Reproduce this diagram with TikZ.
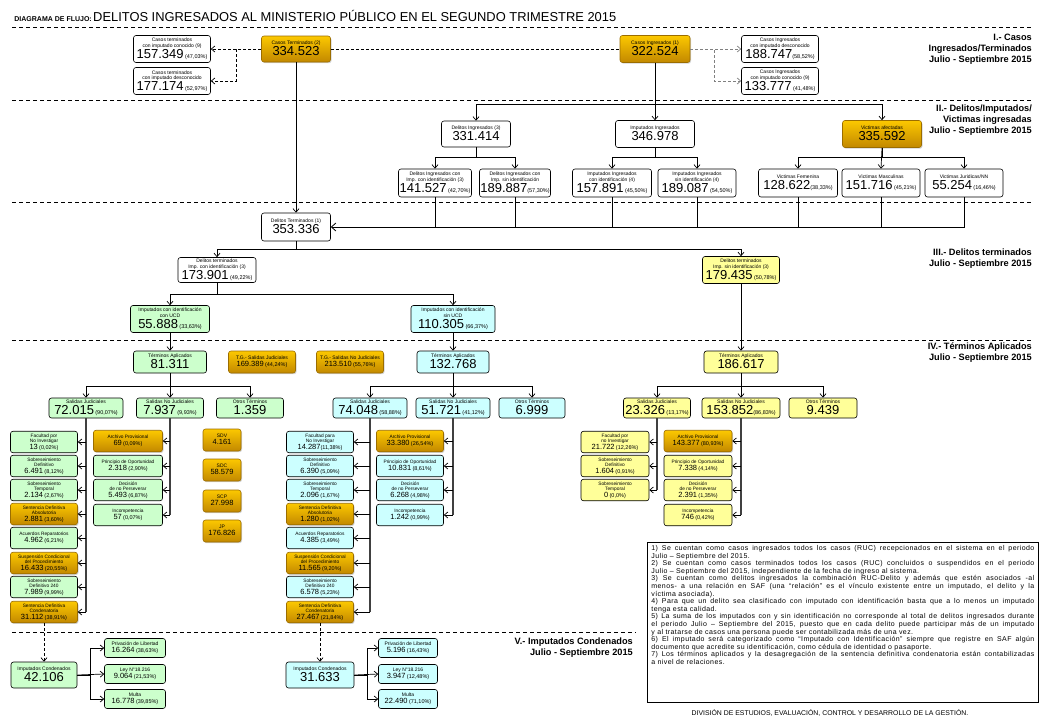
\documentclass[tikz,border=0pt]{standalone}
\usepackage{fontspec}
\setmainfont{Liberation Sans}
\newfontfamily\notafont[LetterSpace=6]{Liberation Sans}
\usepackage{xcolor}
\usepackage{tikz}
\usetikzlibrary{arrows.meta,shadows}

\definecolor{oroclaro}{RGB}{252,200,0}
\definecolor{orooscuro}{RGB}{194,136,0}
\definecolor{verdeclaro}{RGB}{204,255,204}
\definecolor{celeste}{RGB}{204,255,255}
\definecolor{amarillo}{RGB}{255,255,153}

\newcommand{\celda}[1]{\begin{tabular}{@{}c@{}}#1\end{tabular}}
\newcommand{\bnum}[1]{{\fontsize{13}{13}\selectfont #1}}
\newcommand{\mnum}[1]{{\fontsize{7.5}{7.5}\selectfont #1}}
\newcommand{\pcnt}[1]{{\fontsize{5.5}{5.5}\selectfont (#1\%)}}

\begin{document}
\begin{tikzpicture}[x=1pt,y=-1pt,
  caja/.style={draw,rounded corners=2.5pt,inner sep=0.5pt,line width=0.6pt,font=\fontsize{5}{5.6}\selectfont},
  blanca/.style={caja,fill=white},
  oro/.style={caja,draw=orooscuro!80!black,top color=oroclaro,bottom color=orooscuro,drop shadow={opacity=0.35,shadow xshift=1pt,shadow yshift=-1.2pt}},
  verde/.style={caja,fill=verdeclaro},
  cel/.style={caja,fill=celeste},
  ama/.style={caja,fill=amarillo},
  renglon/.style={minimum width=67,minimum height=21.5,font=\fontsize{4.8}{5.3}\selectfont},
  salida/.style={minimum height=20},
  flecha/.style={line width=0.7pt,-{Straight Barb[length=3.5pt,width=6pt]}},
  tronco/.style={line width=1.6pt,black!75},
  punteada/.style={line width=0.7pt,dash pattern=on 3pt off 2pt},
  separador/.style={line width=0.7pt,dash pattern=on 4pt off 3pt},
  seccion/.style={anchor=east,align=right,inner sep=0pt,font=\bfseries\fontsize{9.2}{11}\selectfont}]
\useasboundingbox (0,0) rectangle (1040,720);

% Title
\node[anchor=base west,inner sep=0pt,font=\fontsize{12.9}{14}\selectfont] (titulo) at (93,21) {DELITOS INGRESADOS AL MINISTERIO PÚBLICO EN EL SEGUNDO TRIMESTRE 2015};
\node[anchor=base east,inner sep=1pt,font=\bfseries\fontsize{7}{7}\selectfont] (diagrama) at (titulo.base west) {DIAGRAMA DE FLUJO:};

% Separators
\draw[separador] (12,27) -- (1032,27);
\draw[separador] (12,100) -- (1032,100);
\draw[separador] (12,202) -- (1032,202);
\draw[separador] (12,340) -- (1032,340);
\draw[separador] (12,632) -- (636,632);

% Section titles
\node[seccion] (secI) at (1032,49) {I.- Casos\\Ingresados/Terminados\\Julio - Septiembre 2015};
\node[seccion] (secII) at (1032,120) {II.- Delitos/Imputados/\\Victimas ingresadas\\Julio - Septiembre 2015};
\node[seccion] (secIII) at (1032,259) {III.- Delitos terminados\\Julio - Septiembre 2015};
\node[seccion] (secIV) at (1032,353) {IV.- Términos Aplicados\\Julio - Septiembre 2015};
\node[seccion] (secV) at (633,648) {V.- Imputados Condenados\\Julio - Septiembre 2015};

% Section I
\node[oro,minimum width=69,minimum height=26] (terminados) at (296,49) {\celda{Casos Terminados (2)\\\bnum{334.523}}};
\node[blanca,minimum width=77,minimum height=27] (termConocido) at (172,49) {\celda{Casos terminados\\con imputado conocido (9)\\\bnum{157.349} \pcnt{47,03}}};
\node[blanca,minimum width=77,minimum height=27] (termDesconocido) at (172,81) {\celda{Casos terminados\\con imputado desconocido\\\bnum{177.174} \pcnt{52,97}}};
\node[oro,minimum width=70,minimum height=27] (ingresados) at (655,49) {\celda{Casos Ingresados (1)\\\bnum{322.524}}};
\node[blanca,minimum width=77,minimum height=27] (ingDesconocido) at (780,49) {\celda{Casos Ingresados\\con imputado desconocido\\\bnum{188.747}\pcnt{58,52}}};
\node[blanca,minimum width=77,minimum height=27] (ingConocido) at (780,81) {\celda{Casos Ingresados\\con imputado conocido (9)\\\bnum{133.777} \pcnt{41,48}}};

\draw[punteada] (terminados.east) -- (ingresados.west);
\draw[punteada,flecha] (terminados.west) -- (termConocido.east);
\draw[punteada,flecha] (terminados.west) -- ++(-25,0) |- (termDesconocido.east);
\draw[punteada,flecha,gray] (ingresados.east) -- (ingDesconocido.west);
\draw[punteada,flecha,gray] (ingresados.east) -- ++(24,0) |- (ingConocido.west);

% Section II
\node[blanca,minimum width=69,minimum height=26] (delIng) at (476,134) {\celda{Delitos Ingresados (3)\\\bnum{331.414}}};
\node[blanca,minimum width=79,minimum height=27] (impIng) at (655,134) {\celda{Imputados Ingresados\\\bnum{346.978}}};
\node[oro,minimum width=79,minimum height=27] (victimas) at (882,134) {\celda{Victimas afectadas\\\bnum{335.592}}};

\node[blanca,minimum width=73,minimum height=28] (delCon) at (435,183) {\celda{Delitos Ingresados con\\Imp. con identificación (3)\\\bnum{141.527} \pcnt{42,70}}};
\node[blanca,minimum width=71,minimum height=28] (delSin) at (515,183) {\celda{Delitos Ingresados con\\Imp. sin identificación\\\bnum{189.887}\pcnt{57,30}}};
\node[blanca,minimum width=79,minimum height=28] (impCon) at (612,183) {\celda{Imputados Ingresados\\con identificación (4)\\\bnum{157.891} \pcnt{45,50}}};
\node[blanca,minimum width=78,minimum height=28] (impSin) at (697,183) {\celda{Imputados Ingresados\\sin identificación (4)\\\bnum{189.087} \pcnt{54,50}}};
\node[blanca,minimum width=79,minimum height=28] (vicFem) at (798,183) {\celda{Victimas Femenina\\\bnum{128.622}\pcnt{38,33}}};
\node[blanca,minimum width=78,minimum height=28] (vicMas) at (881,183) {\celda{Victimas Masculinas\\\bnum{151.716} \pcnt{45,21}}};
\node[blanca,minimum width=78,minimum height=28] (vicJur) at (964,183) {\celda{Victimas Juridicas/NN\\\bnum{55.254} \pcnt{16,46}}};

\draw[flecha] (ingresados.south) -- ++(0,42) -| (delIng.north);
\draw[flecha] (ingresados.south) -- (impIng.north);
\draw[flecha] (ingresados.south) -- ++(0,42) -| (victimas.north);
\draw[flecha] (delIng.south) -- ++(0,10) -| (delCon.north);
\draw[flecha] (delIng.south) -- ++(0,10) -| (delSin.north);
\draw[flecha] (impIng.south) -- ++(0,10) -| (impCon.north);
\draw[flecha] (impIng.south) -- ++(0,10) -| (impSin.north);
\draw[flecha] (victimas.south) -- ++(0,10) -| (vicFem.north);
\draw[flecha] (victimas.south) -- (vicMas.north);
\draw[flecha] (victimas.south) -- ++(0,10) -| (vicJur.north);

% Section III
\node[blanca,minimum width=69,minimum height=28] (delTerm) at (296,227) {\celda{Delitos Terminados (1)\\\bnum{353.336}}};
\node[blanca,minimum width=78,minimum height=25] (termCon) at (217,270) {\celda{Delitos terminados\\Imp. con identificación (3)\\\bnum{173.901} \pcnt{49,22}}};
\node[ama,minimum width=77,minimum height=27] (termSin) at (741,270) {\celda{Delitos terminados\\Imp. sin identificación (3)\\\bnum{179.435} \pcnt{50,78}}};
\node[verde,minimum width=79,minimum height=27] (conUCD) at (170,319) {\celda{Imputados con identificación\\con UCD\\\bnum{55.888} \pcnt{33,63}}};
\node[cel,minimum width=84,minimum height=27] (sinUCD) at (453,319) {\celda{Imputados con identificación\\sin UCD\\\bnum{110.305} \pcnt{66,37}}};

\draw[flecha] (terminados) -- (delTerm);
\draw (delCon.south) -- (delCon.south |- delTerm.east);
\draw (delSin.south) -- (delSin.south |- delTerm.east);
\draw (impCon.south) -- (impCon.south |- delTerm.east);
\draw (impSin.south) -- (impSin.south |- delTerm.east);
\draw (vicFem.south) -- (vicFem.south |- delTerm.east);
\draw (vicMas.south) -- (vicMas.south |- delTerm.east);
\draw[line width=0.8pt,-{Straight Barb[length=4.5pt,width=8pt]}] (vicJur.south) |- (delTerm.east);
\draw[flecha] (delTerm.south) -- ++(0,8) -| (termCon.north);
\draw[flecha] (delTerm.south) -- ++(0,8) -| (termSin.north);
\draw[flecha] (termCon.south) -- ++(0,12) -| (conUCD.north);
\draw[flecha] (termCon.south) -- ++(0,12) -| (sinUCD.north);

% Section IV
\node[verde,minimum width=73,minimum height=22] (aplicV) at (170,362) {\celda{Términos Aplicados\\\bnum{81.311}}};
\node[oro,minimum width=67,minimum height=22] (tgJud) at (262,362) {\celda{T.G.- Salidas Judiciales\\\mnum{169.389} \pcnt{44,24}}};
\node[oro,minimum width=67,minimum height=22] (tgNoJud) at (350,362) {\celda{T.G.- Salidas No Judiciales\\\mnum{213.510} \pcnt{55,76}}};
\node[cel,minimum width=72,minimum height=22] (aplicC) at (453,362) {\celda{Términos Aplicados\\\bnum{132.768}}};
\node[ama,minimum width=74,minimum height=22] (aplicA) at (741,362) {\celda{Términos Aplicados\\\bnum{186.617}}};

\draw[flecha] (conUCD) -- (aplicV);
\draw[flecha] (sinUCD) -- (aplicC);
\draw[flecha] (termSin) -- (aplicA);

% Salidas
\node[verde,salida,minimum width=74] (judV) at (86,408) {\celda{Salidas Judiciales\\\bnum{72.015} \pcnt{90,07}}};
\node[verde,salida,minimum width=67] (nojudV) at (170,408) {\celda{Salidas No Judiciales\\\bnum{7.937} \pcnt{9,93}}};
\node[verde,salida,minimum width=67] (otrosV) at (250,408) {\celda{Otros Términos\\\bnum{1.359}}};
\node[cel,salida,minimum width=74] (judC) at (370,408) {\celda{Salidas Judiciales\\\bnum{74.048} \pcnt{58,88}}};
\node[cel,salida,minimum width=74] (nojudC) at (453,408) {\celda{Salidas No Judiciales\\\bnum{51.721} \pcnt{41,12}}};
\node[cel,salida,minimum width=66] (otrosC) at (532,408) {\celda{Otros Términos\\\bnum{6.999}}};
\node[ama,salida,minimum width=67] (judA) at (657,408) {\celda{Salidas Judiciales\\\bnum{23.326} \pcnt{13,17}}};
\node[ama,salida,minimum width=78] (nojudA) at (741,408) {\celda{Salidas No Judiciales\\\bnum{153.852}\pcnt{86,83}}};
\node[ama,salida,minimum width=68] (otrosA) at (823,408) {\celda{Otros Términos\\\bnum{9.439}}};

\draw[flecha] (aplicV.south) -- ++(0,13) -| (judV.north);
\draw[flecha] (aplicV.south) -- (nojudV.north);
\draw[flecha] (aplicV.south) -- ++(0,13) -| (otrosV.north);
\draw[flecha] (aplicC.south) -- ++(0,13) -| (judC.north);
\draw[flecha] (aplicC.south) -- (nojudC.north);
\draw[flecha] (aplicC.south) -- ++(0,13) -| (otrosC.north);
\draw[flecha] (aplicA.south) -- ++(0,13) -| (judA.north);
\draw[flecha] (aplicA.south) -- (nojudA.north);
\draw[flecha] (aplicA.south) -- ++(0,13) -| (otrosA.north);

% Green judiciales
\node[verde,renglon] (judV1) at (44,442) {\celda{Facultad por\\No Investigar\\\mnum{13} \pcnt{0,02}}};
\node[verde,renglon] (judV2) at (44,466) {\celda{Sobreseimiento\\Definitivo\\\mnum{6.491} \pcnt{8,12}}};
\node[verde,renglon] (judV3) at (44,490) {\celda{Sobreseimiento\\Temporal\\\mnum{2.134} \pcnt{2,67}}};
\node[oro,renglon] (judV4) at (44,514) {\celda{Sentencia Definitiva\\Absolutoria\\\mnum{2.881} \pcnt{3,60}}};
\node[verde,renglon] (judV5) at (44,538) {\celda{Acuerdos Reparatorios\\\mnum{4.962} \pcnt{6,21}}};
\node[oro,renglon] (judV6) at (44,563) {\celda{Suspensión Condicional\\del Procedimiento\\\mnum{16.433} \pcnt{20,55}}};
\node[verde,renglon] (judV7) at (44,587) {\celda{Sobreseimiento\\Definitivo 240\\\mnum{7.989} \pcnt{9,99}}};
\node[oro,renglon] (judV8) at (44,612) {\celda{Sentencia Definitiva\\Condenatoria\\\mnum{31.112} \pcnt{38,91}}};

\draw[tronco] (judV.south) -- (judV.south |- judV8.east);
\draw[flecha] (judV.south |- judV1.east) -- (judV1.east);
\draw[flecha] (judV.south |- judV2.east) -- (judV2.east);
\draw[flecha] (judV.south |- judV3.east) -- (judV3.east);
\draw[flecha] (judV.south |- judV4.east) -- (judV4.east);
\draw[flecha] (judV.south |- judV5.east) -- (judV5.east);
\draw[flecha] (judV.south |- judV6.east) -- (judV6.east);
\draw[flecha] (judV.south |- judV7.east) -- (judV7.east);
\draw[flecha] (judV.south |- judV8.east) -- (judV8.east);

% Green no judiciales
\node[oro,renglon,minimum width=69] (nojudV1) at (128,441) {\celda{Archivo Provisional\\\mnum{69} \pcnt{0,09}}};
\node[verde,renglon,minimum width=69] (nojudV2) at (128,466) {\celda{Principio de Oportunidad\\\mnum{2.318} \pcnt{2,90}}};
\node[verde,renglon,minimum width=69] (nojudV3) at (128,490) {\celda{Decisión\\de no Perseverar\\\mnum{5.493} \pcnt{6,87}}};
\node[verde,renglon,minimum width=69] (nojudV4) at (128,515) {\celda{Incompetencia\\\mnum{57} \pcnt{0,07}}};

\draw[tronco] (nojudV.south) -- (nojudV.south |- nojudV4.east);
\draw[flecha] (nojudV.south |- nojudV1.east) -- (nojudV1.east);
\draw[flecha] (nojudV.south |- nojudV2.east) -- (nojudV2.east);
\draw[flecha] (nojudV.south |- nojudV3.east) -- (nojudV3.east);
\draw[flecha] (nojudV.south |- nojudV4.east) -- (nojudV4.east);

% Tribunal boxes
\node[oro,minimum width=38,minimum height=22] (sdv) at (222,440) {\celda{SDV\\\mnum{4.161}}};
\node[oro,minimum width=38,minimum height=22] (sdc) at (222,470) {\celda{SDC\\\mnum{58.579}}};
\node[oro,minimum width=38,minimum height=22] (scp) at (222,501) {\celda{SCP\\\mnum{27.998}}};
\node[oro,minimum width=38,minimum height=22] (jp) at (222,531) {\celda{JP\\\mnum{176.826}}};

% Cyan judiciales
\node[cel,renglon] (judC1) at (320,442) {\celda{Facultad para\\No Investigar\\\mnum{14.287}\pcnt{11,38}}};
\node[cel,renglon] (judC2) at (320,466) {\celda{Sobreseimiento\\Definitivo\\\mnum{6.390} \pcnt{5,09}}};
\node[cel,renglon] (judC3) at (320,490) {\celda{Sobreseimiento\\Temporal\\\mnum{2.096} \pcnt{1,67}}};
\node[oro,renglon] (judC4) at (320,514) {\celda{Sentencia Definitiva\\Absolutoria\\\mnum{1.280} \pcnt{1,02}}};
\node[cel,renglon] (judC5) at (320,538) {\celda{Acuerdos Reparatorios\\\mnum{4.385} \pcnt{3,49}}};
\node[oro,renglon] (judC6) at (320,563) {\celda{Suspensión Condicional\\del Procedimiento\\\mnum{11.565} \pcnt{9,20}}};
\node[cel,renglon] (judC7) at (320,587) {\celda{Sobreseimiento\\Definitivo 240\\\mnum{6.578} \pcnt{5,23}}};
\node[oro,renglon] (judC8) at (320,612) {\celda{Sentencia Definitiva\\Condenatoria\\\mnum{27.467} \pcnt{21,84}}};

\draw[tronco] (judC.south) -- (judC.south |- judC8.east);
\draw[flecha] (judC.south |- judC1.east) -- (judC1.east);
\draw[flecha] (judC.south |- judC2.east) -- (judC2.east);
\draw[flecha] (judC.south |- judC3.east) -- (judC3.east);
\draw[flecha] (judC.south |- judC4.east) -- (judC4.east);
\draw[flecha] (judC.south |- judC5.east) -- (judC5.east);
\draw[flecha] (judC.south |- judC6.east) -- (judC6.east);
\draw[flecha] (judC.south |- judC7.east) -- (judC7.east);
\draw[flecha] (judC.south |- judC8.east) -- (judC8.east);

% Cyan no judiciales
\node[oro,renglon] (nojudC1) at (410,441) {\celda{Archivo Provisional\\\mnum{33.380} \pcnt{26,54}}};
\node[cel,renglon] (nojudC2) at (410,466) {\celda{Principio de Oportunidad\\\mnum{10.831} \pcnt{8,61}}};
\node[cel,renglon] (nojudC3) at (410,490) {\celda{Decisión\\de no Perseverar\\\mnum{6.268} \pcnt{4,98}}};
\node[cel,renglon] (nojudC4) at (410,515) {\celda{Incompetencia\\\mnum{1.242} \pcnt{0,99}}};

\draw[tronco] (nojudC.south) -- (nojudC.south |- nojudC4.east);
\draw[flecha] (nojudC.south |- nojudC1.east) -- (nojudC1.east);
\draw[flecha] (nojudC.south |- nojudC2.east) -- (nojudC2.east);
\draw[flecha] (nojudC.south |- nojudC3.east) -- (nojudC3.east);
\draw[flecha] (nojudC.south |- nojudC4.east) -- (nojudC4.east);

% Yellow judiciales
\node[ama,renglon,minimum width=68] (judA1) at (615,442) {\celda{Facultad por\\no Investigar\\\mnum{21.722} \pcnt{12,26}}};
\node[ama,renglon,minimum width=68] (judA2) at (615,466) {\celda{Sobreseimiento\\Definitivo\\\mnum{1.604} \pcnt{0,91}}};
\node[ama,renglon,minimum width=68] (judA3) at (615,490) {\celda{Sobreseimiento\\Temporal\\\mnum{0} \pcnt{0,0}}};

\draw[tronco] (judA.south) -- (judA.south |- judA3.east);
\draw[flecha] (judA.south |- judA1.east) -- (judA1.east);
\draw[flecha] (judA.south |- judA2.east) -- (judA2.east);
\draw[flecha] (judA.south |- judA3.east) -- (judA3.east);

% Yellow no judiciales
\node[oro,renglon,minimum width=68] (nojudA1) at (698,441) {\celda{Archivo Provisional\\\mnum{143.377} \pcnt{80,93}}};
\node[ama,renglon,minimum width=68] (nojudA2) at (698,466) {\celda{Principio de Oportunidad\\\mnum{7.338} \pcnt{4,14}}};
\node[ama,renglon,minimum width=68] (nojudA3) at (698,490) {\celda{Decisión\\de no Perseverar\\\mnum{2.391} \pcnt{1,35}}};
\node[ama,renglon,minimum width=68] (nojudA4) at (698,515) {\celda{Incompetencia\\\mnum{746} \pcnt{0,42}}};

\draw[tronco] (nojudA.south) -- (nojudA.south |- nojudA4.east);
\draw[flecha] (nojudA.south |- nojudA1.east) -- (nojudA1.east);
\draw[flecha] (nojudA.south |- nojudA2.east) -- (nojudA2.east);
\draw[flecha] (nojudA.south |- nojudA3.east) -- (nojudA3.east);
\draw[flecha] (nojudA.south |- nojudA4.east) -- (nojudA4.east);

% Section V
\node[verde,minimum width=66,minimum height=26] (condV) at (44,675) {\celda{Imputados Condenados\\\bnum{42.106}}};
\node[verde,minimum width=61,minimum height=19] (privV) at (135,648) {\celda{Privación de Libertad\\\mnum{16.264} \pcnt{38,63}}};
\node[verde,minimum width=61,minimum height=19] (leyV) at (135,674) {\celda{Ley N°18.216\\\mnum{9.064} \pcnt{21,53}}};
\node[verde,minimum width=61,minimum height=19] (multaV) at (135,699) {\celda{Multa\\\mnum{16.778} \pcnt{39,85}}};
\node[cel,minimum width=68,minimum height=26] (condC) at (320,675) {\celda{Imputados Condenados\\\bnum{31.633}}};
\node[cel,minimum width=59,minimum height=19] (privC) at (408,648) {\celda{Privación de Libertad\\\mnum{5.196} \pcnt{16,43}}};
\node[cel,minimum width=59,minimum height=19] (leyC) at (408,674) {\celda{Ley N°18.216\\\mnum{3.947} \pcnt{12,48}}};
\node[cel,minimum width=59,minimum height=19] (multaC) at (408,699) {\celda{Multa\\\mnum{22.490} \pcnt{71,10}}};

\draw[punteada,flecha] (judV8.south) -- (condV.north);
\draw[punteada,flecha] (judC8.south) -- (condC.north);
\draw[flecha] (condV.east) -- ++(13,0) |- (privV.west);
\draw[flecha] (condV.east) -- (leyV.west);
\draw[flecha] (condV.east) -- ++(13,0) |- (multaV.west);
\draw[flecha] (condC.east) -- ++(13,0) |- (privC.west);
\draw[flecha] (condC.east) -- (leyC.west);
\draw[flecha] (condC.east) -- ++(13,0) |- (multaC.west);

% Notes
\node[draw,line width=0.8pt,anchor=north west,inner xsep=4pt,inner ysep=3pt] (notas) at (647,542) {%
\begin{minipage}[t][154pt][t]{383pt}
\notafont\fontsize{7}{7.6}\selectfont\tolerance=10000
1) Se cuentan como casos ingresados todos los casos (RUC) recepcionados en el sistema en el periodo\linebreak Julio – Septiembre del 2015.\par
2) Se cuentan como casos terminados todos los casos (RUC) concluidos o suspendidos en el periodo\linebreak Julio – Septiembre del 2015, independiente de la fecha de ingreso al sistema.\par
3) Se cuentan como delitos ingresados la combinación RUC-Delito y además que estén asociados -al\linebreak menos- a una relación en SAF (una “relación” es el vínculo existente entre un imputado, el delito y la\linebreak víctima asociada).\par
4) Para que un delito sea clasificado con imputado con identificación basta que a lo menos un imputado\linebreak tenga esta calidad.\par
5) La suma de los imputados con y sin identificación no corresponde al total de delitos ingresados durante\linebreak el periodo Julio – Septiembre del 2015, puesto que en cada delito puede participar más de un imputado\linebreak y al tratarse de casos una persona puede ser contabilizada más de una vez.\par
6) El imputado será categorizado como “Imputado con Identificación” siempre que registre en SAF algún\linebreak documento que acredite su identificación, como cédula de identidad o pasaporte.\par
7) Los términos aplicados y la desagregación de la sentencia definitiva condenatoria están contabilizadas\linebreak a nivel de relaciones.\par
\end{minipage}};
\node[font=\fontsize{6.9}{7}\selectfont] (division) at (830,713) {DIVISIÓN DE ESTUDIOS, EVALUACIÓN, CONTROL Y DESARROLLO DE LA GESTIÓN.};
\end{tikzpicture}
\end{document}
